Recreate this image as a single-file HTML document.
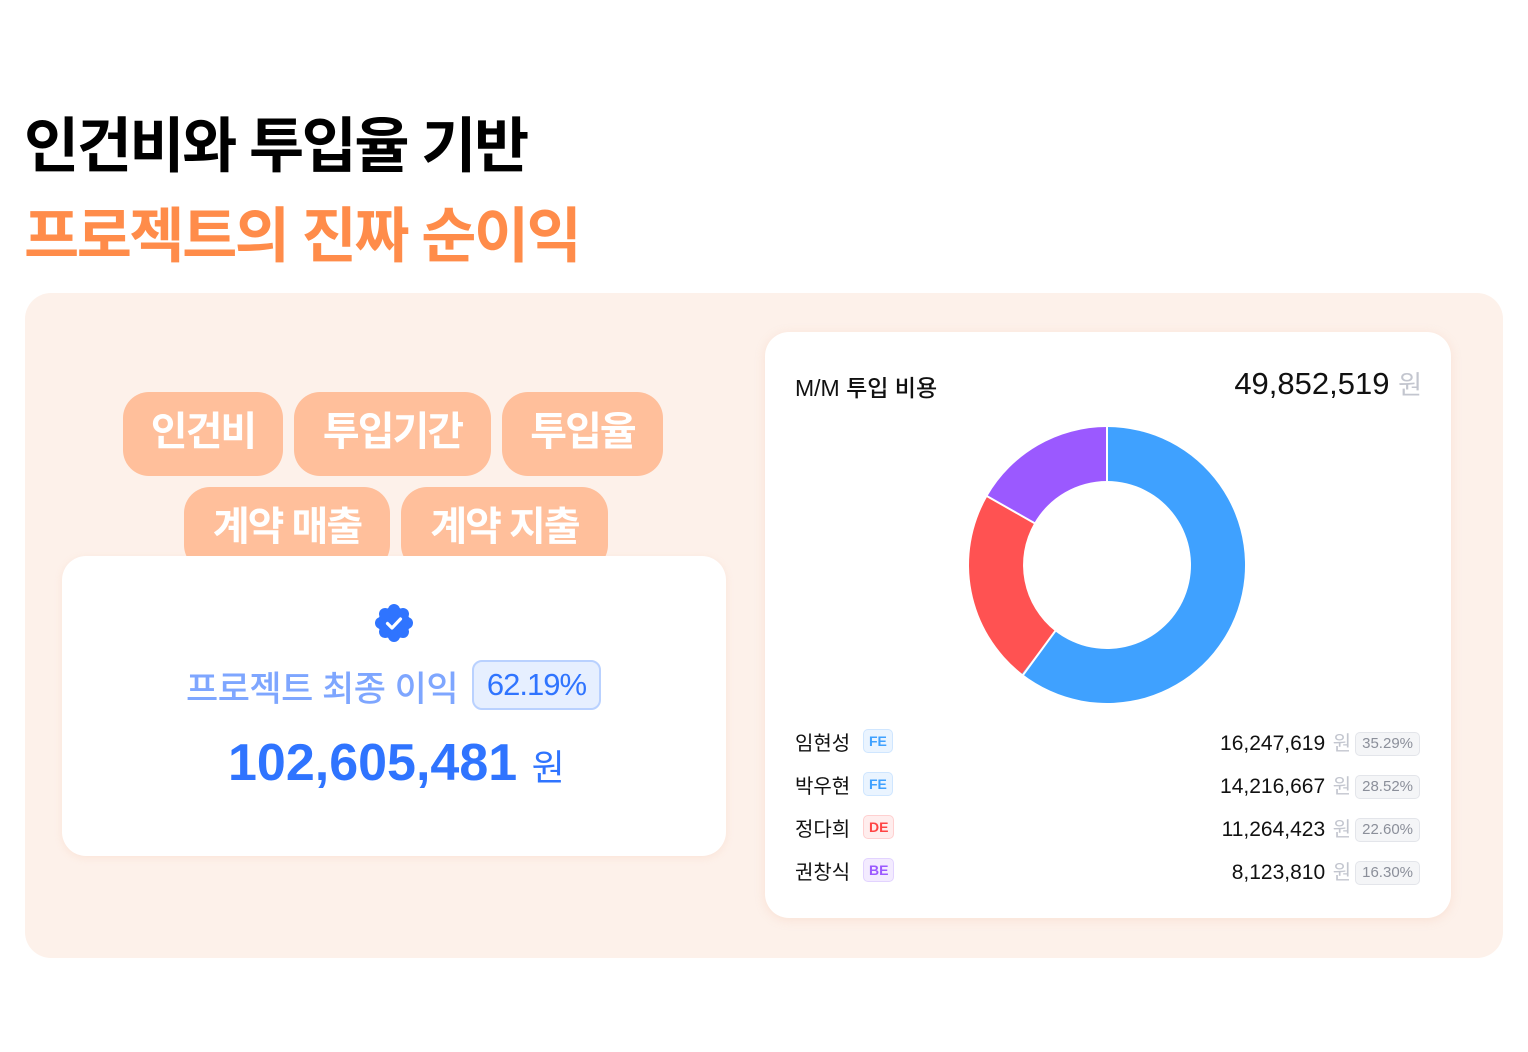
<!DOCTYPE html>
<html><head><meta charset="utf-8"><style>
*{margin:0;padding:0;box-sizing:border-box}
body{width:1528px;height:1052px;background:#fff;font-family:"Liberation Sans","Noto Sans CJK KR",sans-serif;position:relative;overflow:hidden}
.abs{position:absolute}
.t1{left:24px;top:98px;font-size:60px;font-weight:700;letter-spacing:-2.5px;color:#000;white-space:nowrap}
.t2{left:24px;top:188px;font-size:60px;font-weight:700;letter-spacing:-2.5px;color:#ff8c4a;white-space:nowrap}
.panel{left:25px;top:293px;width:1478px;height:665px;background:#fdf1ea;border-radius:26px}
.chip{position:absolute;background:#ffbf9b;color:#fff;border-radius:26px;height:84px;font-size:40px;font-weight:700;letter-spacing:-2px;text-align:center;line-height:80px}
.card{background:#fff;border-radius:24px}
.tag{display:inline-block;font-size:14px;font-weight:700;border-radius:5px;padding:0 5px;height:24px;line-height:22px;border:1px solid}
.row{position:absolute;left:795px;width:625px;height:30px;font-size:20px;color:#111}
.row .n{position:absolute;left:0;top:0}
.row .tg{position:absolute;left:68px;top:2px}
.row .r{position:absolute;right:0;top:0;white-space:nowrap;font-size:21px}
.won{color:#c3c6cf;margin:0 4px 0 2px;font-size:20px}
.pct{display:inline-block;font-size:15px;color:#8b8f9a;background:#f4f5f7;border:1px solid #e3e5ea;border-radius:5px;padding:0 6px;height:24px;line-height:22px;vertical-align:2px}
</style></head><body>
<div class="abs t1">인건비와 투입율 기반</div>
<div class="abs t2">프로젝트의 진짜 순이익</div>
<div class="abs panel"></div>
<div class="chip" style="left:123px;top:392px;width:160px">인건비</div>
<div class="chip" style="left:294px;top:392px;width:197px">투입기간</div>
<div class="chip" style="left:502px;top:392px;width:161px">투입율</div>
<div class="chip" style="left:184px;top:487px;width:206px">계약 매출</div>
<div class="chip" style="left:401px;top:487px;width:207px">계약 지출</div>
<div class="abs card" style="left:62px;top:556px;width:664px;height:300px;box-shadow:0 2px 8px rgba(240,180,150,.2)"></div>
<svg class="abs" style="left:374px;top:603px" width="40" height="40" viewBox="0 0 40 40">
<circle cx="20" cy="20" r="16" fill="#2f74ff"/>
<g fill="#2f74ff"><circle cx="20" cy="7" r="6"/><circle cx="20" cy="33" r="6"/><circle cx="7" cy="20" r="6"/><circle cx="33" cy="20" r="6"/><circle cx="11" cy="11" r="6"/><circle cx="29" cy="11" r="6"/><circle cx="11" cy="29" r="6"/><circle cx="29" cy="29" r="6"/></g>
<path d="M13.5 20.5l4.5 4.5 8.5-9" stroke="#fff" stroke-width="3.2" fill="none" stroke-linecap="round" stroke-linejoin="round"/></svg>
<div class="abs" style="left:186px;top:661px;font-size:35px;font-weight:500;color:#7ea6ff;letter-spacing:-0.5px;white-space:nowrap">프로젝트 최종 이익</div>
<div class="abs" style="left:472px;top:660px;width:129px;height:50px;border:2px solid #b9d1ff;background:#e6efff;border-radius:10px;color:#2f74ff;font-size:31px;font-weight:500;text-align:center;line-height:46px;letter-spacing:-1px">62.19%</div>
<div class="abs" style="left:228px;top:733px;font-size:52px;font-weight:700;color:#2f74ff;white-space:nowrap;letter-spacing:0">102,605,481 <span style="font-size:36px;font-weight:400">원</span></div>
<div class="abs card" style="left:765px;top:332px;width:686px;height:586px;box-shadow:0 2px 10px rgba(240,180,150,.25)"></div>
<div class="abs" style="left:795px;top:369px;font-size:23px;font-weight:500;color:#111;white-space:nowrap">M/M 투입 비용</div>
<div class="abs" style="right:106px;top:365px;font-size:31px;font-weight:500;color:#111;white-space:nowrap">49,852,519 <span style="color:#c3c6cf;font-size:26px;font-weight:400">원</span></div>
<svg class="abs" style="left:0;top:0" width="1528" height="1052">
<path d="M1107 427A138 138 0 1 1 1022 673.7L1055.3 631.2A84 84 0 1 0 1107 481Z" fill="#3fa1ff"/>
<path d="M1022 673.7A138 138 0 0 1 987.5 496L1034.3 523A84 84 0 0 0 1055.3 631.2Z" fill="#ff5252"/>
<path d="M987.5 496A138 138 0 0 1 1107 427L1107 481A84 84 0 0 0 1034.3 523Z" fill="#9b59ff"/>
<g stroke="#fff" stroke-width="2"><line x1="1107" y1="425" x2="1107" y2="483"/><line x1="1023" y1="675" x2="1056" y2="630"/><line x1="985" y1="495" x2="1036" y2="524"/></g>
</svg>
<div class="row" style="top:727px"><span class="n">임현성</span><span class="tg"><span class="tag" style="color:#3fa1ff;background:#eaf4ff;border-color:#cfe6ff">FE</span></span><span class="r">16,247,619<span class="won"> 원</span><span class="pct">35.29%</span></span></div>
<div class="row" style="top:770px"><span class="n">박우현</span><span class="tg"><span class="tag" style="color:#3fa1ff;background:#eaf4ff;border-color:#cfe6ff">FE</span></span><span class="r">14,216,667<span class="won"> 원</span><span class="pct">28.52%</span></span></div>
<div class="row" style="top:813px"><span class="n">정다희</span><span class="tg"><span class="tag" style="color:#ff4545;background:#ffeded;border-color:#ffd0d0">DE</span></span><span class="r">11,264,423<span class="won"> 원</span><span class="pct">22.60%</span></span></div>
<div class="row" style="top:856px"><span class="n">권창식</span><span class="tg"><span class="tag" style="color:#9b59ff;background:#f3ebff;border-color:#e2d3ff">BE</span></span><span class="r">8,123,810<span class="won"> 원</span><span class="pct">16.30%</span></span></div>
</body></html>
